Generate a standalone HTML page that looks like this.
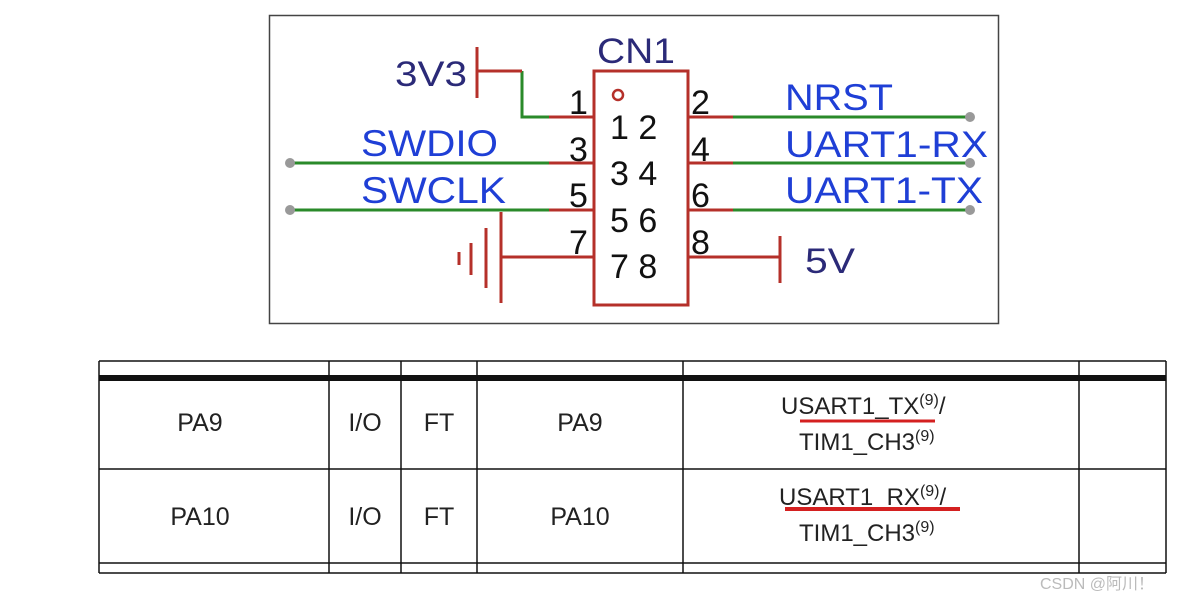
<!DOCTYPE html>
<html><head><style>
body{margin:0;background:#fff;width:1195px;height:604px;overflow:hidden}
</style></head><body>
<svg width="1195" height="604" xmlns="http://www.w3.org/2000/svg" font-family="Liberation Sans, sans-serif">
<rect x="269.5" y="15.5" width="729" height="308" fill="#fff" stroke="#444" stroke-width="1.5"/>
<g stroke="#2a8a2a" stroke-width="3" fill="none">
<polyline points="522,71 522,117 549,117"/>
<line x1="290" y1="163" x2="549" y2="163"/><line x1="290" y1="210" x2="549" y2="210"/>
<line x1="733" y1="117" x2="970" y2="117"/><line x1="733" y1="163" x2="970" y2="163"/><line x1="733" y1="210" x2="970" y2="210"/>
</g>
<g fill="#999"><circle cx="290" cy="163" r="5"/><circle cx="290" cy="210" r="5"/><circle cx="970" cy="117" r="5"/><circle cx="970" cy="163" r="5"/><circle cx="970" cy="210" r="5"/></g>
<g stroke="#b5302a" stroke-width="3" fill="none">
<rect x="594" y="71" width="94" height="234"/>
<line x1="477" y1="47" x2="477" y2="98"/><line x1="477" y1="71" x2="522" y2="71"/>
<line x1="549" y1="117" x2="594" y2="117"/><line x1="549" y1="163" x2="594" y2="163"/><line x1="549" y1="210" x2="594" y2="210"/>
<line x1="688" y1="117" x2="733" y2="117"/><line x1="688" y1="163" x2="733" y2="163"/><line x1="688" y1="210" x2="733" y2="210"/>
<line x1="501" y1="257" x2="594" y2="257"/><line x1="501" y1="212" x2="501" y2="303"/>
<line x1="486" y1="228" x2="486" y2="288"/><line x1="471" y1="243" x2="471" y2="275"/><line x1="459" y1="252" x2="459" y2="265"/>
<line x1="688" y1="257" x2="780" y2="257"/><line x1="780" y1="236" x2="780" y2="283"/>
<circle cx="618" cy="95" r="5" stroke-width="2.5"/>
</g>
<g fill="#2b2a78" font-size="35">
<text x="597" y="63" textLength="78" lengthAdjust="spacingAndGlyphs">CN1</text>
<text x="395" y="86" textLength="72" lengthAdjust="spacingAndGlyphs">3V3</text>
<text x="805" y="273" textLength="50" lengthAdjust="spacingAndGlyphs">5V</text>
</g>
<g fill="#1f3fd6" font-size="37">
<text x="361" y="156" textLength="137" lengthAdjust="spacingAndGlyphs">SWDIO</text>
<text x="361" y="203" textLength="145" lengthAdjust="spacingAndGlyphs">SWCLK</text>
<text x="785" y="110" textLength="108" lengthAdjust="spacingAndGlyphs">NRST</text>
<text x="785" y="157" textLength="203" lengthAdjust="spacingAndGlyphs">UART1-RX</text>
<text x="785" y="203" textLength="198" lengthAdjust="spacingAndGlyphs">UART1-TX</text>
</g>
<g fill="#111" font-size="34">
<text x="569" y="114">1</text><text x="569" y="161">3</text><text x="569" y="207">5</text><text x="569" y="254">7</text>
<text x="691" y="114">2</text><text x="691" y="161">4</text><text x="691" y="207">6</text><text x="691" y="254">8</text>
<text x="610" y="139">1 2</text><text x="610" y="185">3 4</text><text x="610" y="232">5 6</text><text x="610" y="278">7 8</text>
</g>
<g stroke="#111" stroke-width="1.5" fill="none">
<line x1="99" y1="361" x2="1166" y2="361"/>
<line x1="99" y1="469" x2="1166" y2="469"/>
<line x1="99" y1="563" x2="1166" y2="563"/><line x1="99" y1="573" x2="1166" y2="573"/>
<line x1="99" y1="361" x2="99" y2="573"/><line x1="1166" y1="361" x2="1166" y2="573"/>
<line x1="329" y1="361" x2="329" y2="573"/><line x1="401" y1="361" x2="401" y2="573"/>
<line x1="477" y1="361" x2="477" y2="573"/><line x1="683" y1="361" x2="683" y2="573"/><line x1="1079" y1="361" x2="1079" y2="573"/>
</g>
<rect x="99" y="375" width="1067" height="6" fill="#111"/>
<g fill="#222" font-size="25" text-anchor="middle">
<text x="200" y="431">PA9</text><text x="365" y="431">I/O</text><text x="439" y="431">FT</text><text x="580" y="431">PA9</text>
<text x="200" y="525">PA10</text><text x="365" y="525">I/O</text><text x="439" y="525">FT</text><text x="580" y="525">PA10</text>
</g>
<g fill="#222" font-size="24">
<text x="781" y="414">USART1_TX<tspan font-size="16" dy="-9">(9)</tspan><tspan dy="9">/</tspan></text>
<text x="799" y="450">TIM1_CH3<tspan font-size="16" dy="-9">(9)</tspan></text>
<text x="779" y="505">USART1_RX<tspan font-size="16" dy="-9">(9)</tspan><tspan dy="9">/</tspan></text>
<text x="799" y="541">TIM1_CH3<tspan font-size="16" dy="-9">(9)</tspan></text>
</g>
<line x1="800" y1="421" x2="935" y2="421" stroke="#d42020" stroke-width="3"/>
<line x1="785" y1="509" x2="960" y2="509" stroke="#d42020" stroke-width="4"/>
<text x="1040" y="589" font-size="16" fill="#bbb" font-family="Liberation Sans, Noto Sans CJK SC, sans-serif">CSDN @阿川！</text>
</svg>
</body></html>
